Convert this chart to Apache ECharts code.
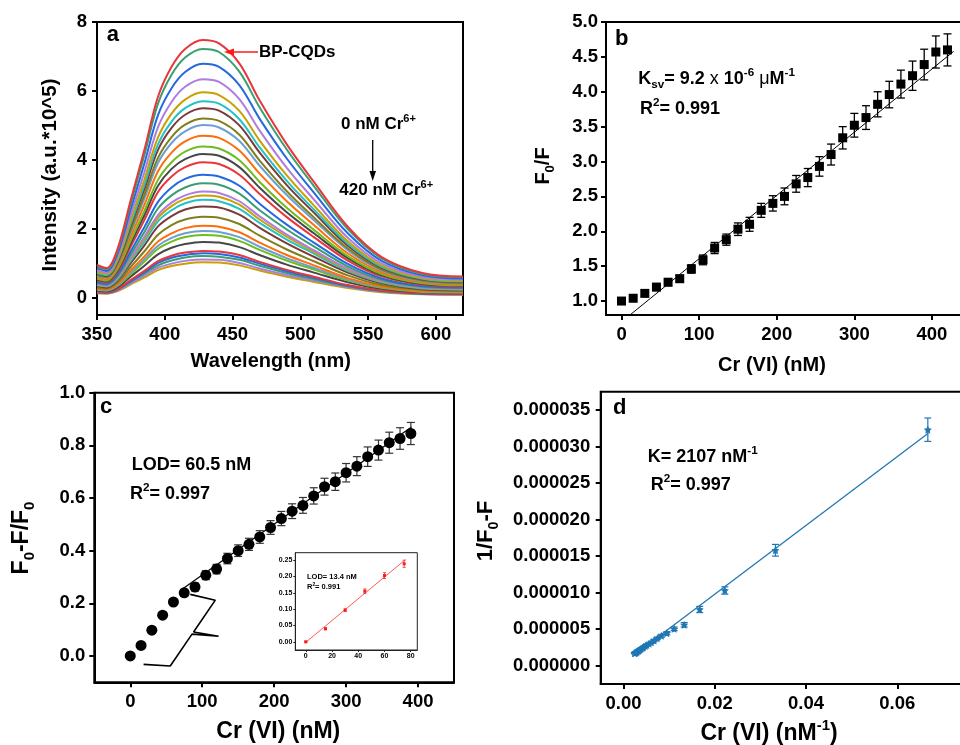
<!DOCTYPE html>
<html><head><meta charset="utf-8">
<script src="https://cdn.jsdelivr.net/npm/echarts@6/dist/echarts.min.js"></script>
<style>html,body{margin:0;padding:0;background:#fff}#chart{width:960px;height:745px}</style>
</head><body><div id="chart"></div>
<script>
// ---------------- Panel a: emission spectra ----------------
const wavelengthA = [350,357,365,375,385,395,405,415,428,440,455,470,490,510,535,560,590,620];
const concA = [0,15,30,45,60,75,90,105,120,135,150,165,180,195,210,225,240,255,270,285,300,315,330,345,360,375,390,405,420];
const spectraA = [
 [0.95,0.86,1.40,2.85,4.30,5.83,6.70,7.22,7.48,7.38,6.80,5.72,4.45,3.36,2.06,1.18,0.72,0.62],
 [0.92,0.83,1.35,2.75,4.15,5.63,6.47,6.97,7.22,7.13,6.56,5.52,4.30,3.24,1.99,1.14,0.69,0.60],
 [0.86,0.78,1.27,2.59,3.90,5.30,6.08,6.55,6.79,6.70,6.17,5.19,4.04,3.05,1.87,1.07,0.65,0.56],
 [0.81,0.73,1.19,2.42,3.65,4.95,5.68,6.12,6.34,6.26,5.76,4.85,3.77,2.85,1.74,1.00,0.61,0.53],
 [0.76,0.69,1.11,2.27,3.43,4.65,5.34,5.75,5.96,5.88,5.42,4.56,3.55,2.68,1.64,0.94,0.57,0.49],
 [0.72,0.66,1.07,2.17,3.28,4.45,5.11,5.50,5.70,5.63,5.18,4.36,3.39,2.56,1.57,0.90,0.55,0.47],
 [0.70,0.63,1.03,2.10,3.16,4.29,4.93,5.31,5.50,5.43,5.00,4.21,3.27,2.47,1.51,0.87,0.53,0.46],
 [0.66,0.60,0.97,1.98,2.99,4.06,4.66,5.02,5.20,5.13,4.73,3.98,3.09,2.33,1.43,0.82,0.50,0.43],
 [0.64,0.58,0.94,1.91,2.88,3.91,4.49,4.83,5.01,4.94,4.55,3.83,2.98,2.25,1.38,0.79,0.48,0.42],
 [0.60,0.54,0.88,1.79,2.70,3.67,4.21,4.54,4.70,4.64,4.27,3.60,2.80,2.11,1.29,0.74,0.45,0.39],
 [0.56,0.50,0.82,1.67,2.52,3.42,3.93,4.24,4.39,4.33,3.99,3.36,2.61,1.97,1.21,0.69,0.42,0.36],
 [0.53,0.48,0.78,1.59,2.40,3.25,3.74,4.02,4.17,4.12,3.79,3.19,2.48,1.87,1.15,0.66,0.40,0.35],
 [0.50,0.45,0.73,1.50,2.26,3.07,3.52,3.79,3.93,3.88,3.57,3.01,2.34,1.76,1.08,0.62,0.38,0.33],
 [0.45,0.41,0.67,1.36,2.05,2.78,3.20,3.45,3.57,3.52,3.25,2.73,2.12,1.60,0.98,0.56,0.34,0.30],
 [0.42,0.38,0.62,1.26,1.91,2.59,2.97,3.20,3.32,3.28,3.02,2.54,1.98,1.49,0.91,0.52,0.32,0.28],
 [0.39,0.35,0.58,1.17,1.77,2.40,2.76,2.97,3.08,3.04,2.80,2.36,1.83,1.38,0.85,0.49,0.30,0.26],
 [0.38,0.34,0.56,1.13,1.71,2.32,2.66,2.87,2.97,2.93,2.70,2.27,1.77,1.33,0.82,0.47,0.29,0.25],
 [0.36,0.33,0.53,1.08,1.63,2.22,2.54,2.74,2.84,2.80,2.58,2.17,1.69,1.28,0.78,0.45,0.27,0.24],
 [0.34,0.30,0.50,1.01,1.52,2.07,2.37,2.56,2.65,2.62,2.41,2.03,1.58,1.19,0.73,0.42,0.25,0.22],
 [0.30,0.27,0.44,0.90,1.35,1.83,2.11,2.27,2.35,2.32,2.14,1.80,1.40,1.06,0.65,0.37,0.23,0.20],
 [0.27,0.24,0.39,0.80,1.20,1.63,1.87,2.02,2.09,2.06,1.90,1.60,1.24,0.94,0.57,0.33,0.20,0.17],
 [0.25,0.22,0.36,0.74,1.12,1.51,1.74,1.87,1.94,1.91,1.76,1.48,1.15,0.87,0.53,0.31,0.19,0.16],
 [0.23,0.21,0.34,0.69,1.05,1.42,1.63,1.76,1.82,1.80,1.65,1.39,1.08,0.82,0.50,0.29,0.17,0.15],
 [0.21,0.19,0.30,0.62,0.93,1.26,1.45,1.56,1.62,1.60,1.47,1.24,0.96,0.73,0.45,0.26,0.16,0.13],
 [0.17,0.16,0.25,0.52,0.78,1.06,1.22,1.31,1.36,1.34,1.24,1.04,0.81,0.61,0.37,0.21,0.13,0.11],
 [0.16,0.15,0.24,0.49,0.74,1.01,1.16,1.24,1.29,1.27,1.17,0.99,0.77,0.58,0.35,0.20,0.12,0.11],
 [0.15,0.14,0.23,0.46,0.70,0.94,1.08,1.17,1.21,1.19,1.10,0.93,0.72,0.54,0.33,0.19,0.12,0.10],
 [0.14,0.13,0.21,0.42,0.64,0.87,0.99,1.07,1.11,1.10,1.01,0.85,0.66,0.50,0.31,0.18,0.11,0.09],
 [0.13,0.12,0.19,0.39,0.59,0.80,0.92,0.99,1.03,1.02,0.94,0.79,0.61,0.46,0.28,0.16,0.10,0.09]
];
const colorsA = ['#e8363c','#3a9e70','#2469e0','#b07ce0','#c7a100','#22c2c8','#7a3a3a','#7f801c','#6d9fd3','#ff6d0a','#6dbd1e','#474747',
                 '#e8363c','#2469e0','#3a9e70','#b07ce0','#c7a100','#22c2c8','#7a3a3a','#7f801c','#ff6d0a','#6d9fd3','#6dbd1e','#474747',
                 '#e8363c','#2469e0','#3a9e70','#b07ce0','#c7a100'];
const ticksAx = [350,400,450,500,550,600];
const ticksAy = [0,2,4,6,8];

// ---------------- Panel b: Stern-Volmer ----------------
const crB = [0,15,30,45,60,75,90,105,120,135,150,165,180,195,210,225,240,255,270,285,300,315,330,345,360,375,390,405,420];
const f0fB = [1.00,1.04,1.11,1.20,1.27,1.32,1.46,1.59,1.76,1.88,2.03,2.10,2.30,2.40,2.50,2.68,2.77,2.93,3.10,3.34,3.52,3.63,3.82,3.96,4.11,4.23,4.39,4.57,4.60];
const errB = [0.03,0.03,0.04,0.05,0.05,0.05,0.06,0.07,0.08,0.08,0.09,0.10,0.10,0.11,0.12,0.12,0.13,0.14,0.15,0.16,0.17,0.17,0.18,0.19,0.20,0.21,0.22,0.23,0.23];
const fitBx = [12, 428];
const fitBy = [0.81, 4.58];
const ticksBx = [0,100,200,300,400];
const ticksBy = [1.0,1.5,2.0,2.5,3.0,3.5,4.0,4.5,5.0];

// ---------------- Panel c: quenching efficiency ----------------
const crC = [0,15,30,45,60,75,90,105,120,135,150,165,180,195,210,225,240,255,270,285,300,315,330,345,360,375,390];
const quenchC = [0.000,0.040,0.098,0.155,0.205,0.240,0.262,0.307,0.330,0.370,0.400,0.424,0.452,0.488,0.522,0.550,0.572,0.608,0.643,0.662,0.696,0.721,0.757,0.782,0.810,0.826,0.845];
const errC = [0,0,0,0,0,0.013,0.015,0.017,0.018,0.020,0.022,0.023,0.024,0.026,0.027,0.028,0.030,0.031,0.032,0.033,0.035,0.036,0.037,0.038,0.040,0.041,0.042];
const fitCx = [70, 391];
const fitCy = [0.25, 0.87];
const braceCx = [18.5, 55.6, 85.8, 122.8, 88.0, 118.2, 83.4];
const braceCy = [-0.032, -0.038, 0.083, 0.075, 0.091, 0.212, 0.234];
const ticksCx = [0,100,200,300,400];
const ticksCy = [0.0,0.2,0.4,0.6,0.8,1.0];
// inset
const crIn = [0,15,30,45,60,75];
const quenchIn = [0.000,0.040,0.097,0.155,0.203,0.239];
const errIn = [0.002,0.003,0.004,0.007,0.009,0.011];
const fitInx = [-0.5, 76];
const fitIny = [-0.003, 0.252];
const ticksInx = [0,20,40,60,80];
const ticksIny = [0.00,0.05,0.10,0.15,0.20,0.25];

// ---------------- Panel d: Benesi-Hildebrand ----------------
const invCrD = [0.0667,0.0333,0.0222,0.0167,0.0133,0.0111,0.0095,0.0083,0.0074,0.0067,0.0061,0.0056,0.0051,0.0048,0.0044,0.0042,0.0039,0.0037,0.0035,0.0033,0.0032,0.0030,0.0029,0.0028,0.0027,0.0026,0.0025,0.0024];
const invFD = [32.3e-6,15.8e-6,10.3e-6,7.7e-6,5.6e-6,5.05e-6,4.45e-6,4.1e-6,3.75e-6,3.45e-6,3.2e-6,3.0e-6,2.85e-6,2.7e-6,2.55e-6,2.45e-6,2.35e-6,2.25e-6,2.15e-6,2.08e-6,2.02e-6,1.96e-6,1.9e-6,1.85e-6,1.82e-6,1.78e-6,1.75e-6,1.72e-6];
const errD = [1.6e-6,0.8e-6,0.5e-6,0.42e-6,0.3e-6,0.25e-6,0.22e-6,0.2e-6,0.18e-6,0.17e-6,0.15e-6,0.14e-6,0.13e-6,0.12e-6,0.12e-6,0.11e-6,0.1e-6,0.1e-6,0.1e-6,0.1e-6,0.1e-6,0.09e-6,0.09e-6,0.09e-6,0.08e-6,0.08e-6,0.08e-6,0.08e-6];
const fitDx = [0.0024, 0.0668];
const fitDy = [1.5e-6, 31.8e-6];
const ticksDx = [0,0.02,0.04,0.06];
const ticksDy = [0,5e-6,10e-6,15e-6,20e-6,25e-6,30e-6,35e-6];

// ---------------- helpers ----------------
const FONT = '"Liberation Sans", Arial, Helvetica, sans-serif';
const zip = (xs, ys) => xs.map((x, i) => [x, ys[i]]);
const zip3 = (xs, ys, es) => xs.map((x, i) => [x, ys[i], es[i]]);

function mkAxis(gi, min, max, ticks, fmt, s) {
  s = s || {};
  const lw = s.lw || 2;
  return {
    type: 'value', gridIndex: gi, min: min, max: max,
    splitLine: {show: false}, minorTick: {show: false},
    axisLine: {show: true, onZero: false, lineStyle: {color: s.lc || '#000', width: lw}},
    axisTick: {show: true, inside: false, length: s.tl || 5, customValues: ticks, lineStyle: {color: s.lc || '#000', width: lw}},
    axisLabel: {show: true, customValues: ticks, formatter: fmt, color: '#000', fontFamily: FONT,
      fontWeight: 'bold', fontSize: s.fs || 18.5, margin: s.m || 10, hideOverlap: false},
    axisPointer: {show: false}
  };
}
function gridBox(left, top, width, height, s) {
  s = s || {};
  return {left: left, top: top, width: width, height: height, show: true, containLabel: false,
    outerBoundsMode: 'none', borderColor: s.bc || '#000', borderWidth: s.bw || 2,
    backgroundColor: s.bg || 'transparent'};
}
function errRender(cap, color, width) {
  return function (params, api) {
    const x = api.value(0), y = api.value(1), e = api.value(2);
    if (!e) return {type: 'group', children: []};
    const lo = api.coord([x, y - e]), hi = api.coord([x, y + e]);
    const st = {stroke: color, lineWidth: width};
    return {type: 'group', children: [
      {type: 'line', shape: {x1: lo[0], y1: lo[1], x2: hi[0], y2: hi[1]}, style: st},
      {type: 'line', shape: {x1: lo[0] - cap, y1: lo[1], x2: lo[0] + cap, y2: lo[1]}, style: st},
      {type: 'line', shape: {x1: hi[0] - cap, y1: hi[1], x2: hi[0] + cap, y2: hi[1]}, style: st}
    ]};
  };
}
function rich(fs) {
  const base = {fontFamily: FONT, fontWeight: 'bold', color: '#000'};
  return {
    m: Object.assign({}, base, {fontSize: fs, lineHeight: Math.round(fs * 1.35)}),
    s: Object.assign({}, base, {fontSize: fs * 0.65, lineHeight: Math.round(fs * 0.8), verticalAlign: 'bottom'}),
    p: Object.assign({}, base, {fontSize: fs * 0.65, lineHeight: Math.round(fs * 0.8), verticalAlign: 'top'}),
    t: Object.assign({}, base, {fontWeight: 'normal', fontSize: fs, lineHeight: Math.round(fs * 1.35)})
  };
}
function txt(x, y, text, fs, o) {
  o = o || {};
  return {type: 'text', x: x, y: y, rotation: o.rot || 0, z: 100,
    style: {text: text, rich: rich(fs), align: o.align || 'left', verticalAlign: 'middle', fill: o.fill || '#000'}};
}
const STAR = 'path://M0,-10 L2.9,-4 9.5,-3.1 4.8,1.5 5.9,8.1 0,5 -5.9,8.1 -4.8,1.5 -9.5,-3.1 -2.9,-4 Z';
const BLUE = '#1f77b4';

// ---------------- series ----------------
const series = [];
for (let i = spectraA.length - 1; i >= 0; i--) {
  series.push({type: 'line', name: concA[i] + ' nM', xAxisIndex: 0, yAxisIndex: 0, smooth: 0.35,
    showSymbol: false, symbol: 'none', data: zip(wavelengthA, spectraA[i]),
    lineStyle: {color: colorsA[i], width: 2, opacity: 1}, itemStyle: {color: colorsA[i]}, silent: true, clip: true});
}
// b
series.push({type: 'line', xAxisIndex: 1, yAxisIndex: 1, data: zip(fitBx, fitBy), showSymbol: false, symbol: 'none',
  lineStyle: {color: '#000', width: 1}, silent: true, clip: true, z: 2});
series.push({type: 'custom', xAxisIndex: 1, yAxisIndex: 1, renderItem: errRender(4, '#000', 1.3),
  data: zip3(crB, f0fB, errB), encode: {x: 0, y: 1}, silent: true, clip: true, z: 3});
series.push({type: 'scatter', xAxisIndex: 1, yAxisIndex: 1, symbol: 'rect', symbolSize: 9,
  data: zip(crB, f0fB), itemStyle: {color: '#000', opacity: 1}, silent: true, z: 4});
// c
series.push({type: 'line', xAxisIndex: 2, yAxisIndex: 2, data: zip(fitCx, fitCy), showSymbol: false, symbol: 'none',
  lineStyle: {color: '#000', width: 1.2}, silent: true, z: 2});
series.push({type: 'custom', xAxisIndex: 2, yAxisIndex: 2, renderItem: errRender(4, '#333', 1.2),
  data: zip3(crC, quenchC, errC), encode: {x: 0, y: 1}, silent: true, z: 3});
series.push({type: 'scatter', xAxisIndex: 2, yAxisIndex: 2, symbol: 'circle', symbolSize: 11,
  data: zip(crC, quenchC), itemStyle: {color: '#000', opacity: 1}, silent: true, z: 4});
series.push({type: 'line', xAxisIndex: 2, yAxisIndex: 2, data: zip(braceCx, braceCy), showSymbol: false, symbol: 'none',
  lineStyle: {color: '#000', width: 1.6}, silent: true, z: 2});
// inset
series.push({type: 'line', xAxisIndex: 3, yAxisIndex: 3, data: zip(fitInx, fitIny), showSymbol: false, symbol: 'none',
  lineStyle: {color: '#ff5a5a', width: 1}, silent: true, z: 12});
series.push({type: 'custom', xAxisIndex: 3, yAxisIndex: 3, renderItem: errRender(1.5, '#ff2a2a', 0.8),
  data: zip3(crIn, quenchIn, errIn), encode: {x: 0, y: 1}, silent: true, z: 13});
series.push({type: 'scatter', xAxisIndex: 3, yAxisIndex: 3, symbol: 'rect', symbolSize: 3,
  data: zip(crIn, quenchIn), itemStyle: {color: '#ff1a1a', opacity: 1}, silent: true, z: 14});
// d
series.push({type: 'line', xAxisIndex: 4, yAxisIndex: 4, data: zip(fitDx, fitDy), showSymbol: false, symbol: 'none',
  lineStyle: {color: BLUE, width: 1.3}, silent: true, z: 2});
series.push({type: 'custom', xAxisIndex: 4, yAxisIndex: 4, renderItem: errRender(3.5, BLUE, 1.2),
  data: zip3(invCrD, invFD, errD), encode: {x: 0, y: 1}, silent: true, z: 3});
series.push({type: 'scatter', xAxisIndex: 4, yAxisIndex: 4, symbol: STAR, symbolSize: 8,
  data: zip(invCrD, invFD), itemStyle: {color: BLUE, opacity: 1}, silent: true, z: 4});

const f0 = v => String(Math.round(v));
const f1 = v => v.toFixed(1);
const f2 = v => v.toFixed(2);
const f6 = v => v.toFixed(6);

const option = {
  animation: false,
  backgroundColor: '#fff',
  grid: [
    gridBox(97, 22, 366, 293),
    gridBox(606, 22, 357, 293),
    gridBox(94.3, 392.7, 359.7, 289.6),
    gridBox(295.3, 552.7, 122, 97.3, {bw: 1, bc: '#222', bg: '#fff'}),
    gridBox(600.7, 391.7, 365, 292.3)
  ],
  xAxis: [
    mkAxis(0, 350, 620, ticksAx, f0),
    mkAxis(1, -20, 440, ticksBx, f0),
    mkAxis(2, -50, 450, ticksCx, f0),
    mkAxis(3, -8, 85, ticksInx, f0, {lw: 1, tl: 2, fs: 7, m: 3, lc: '#222'}),
    mkAxis(4, -0.005, 0.075, ticksDx, f2)
  ],
  yAxis: [
    mkAxis(0, -0.5, 8, ticksAy, f0),
    mkAxis(1, 0.8, 5.0, ticksBy, f1, {m: 8}),
    mkAxis(2, -0.1, 1.0, ticksCy, f1, {m: 9}),
    mkAxis(3, -0.025, 0.273, ticksIny, f2, {lw: 1, tl: 2, fs: 7, m: 3, lc: '#222'}),
    mkAxis(4, -2.5e-6, 37.5e-6, ticksDy, f6, {m: 10.5})
  ],
  series: series,
  graphic: [
    // panel letters
    txt(106.7, 35, '{m|a}', 22),
    txt(615, 39, '{m|b}', 22),
    txt(100, 407.4, '{m|c}', 22),
    txt(613, 408, '{m|d}', 22),
    // axis titles
    txt(270.8, 361.5, '{m|Wavelength (nm)}', 20, {align: 'center'}),
    txt(50.4, 175, '{m|Intensity (a.u.*10^5)}', 20.5, {align: 'center', rot: Math.PI / 2}),
    txt(772, 365.7, '{m|Cr (VI) (nM)}', 20, {align: 'center'}),
    txt(543, 166, '{m|F}{s|0}{m|/F}', 20, {align: 'center', rot: Math.PI / 2}),
    txt(278.3, 731.8, '{m|Cr (VI) (nM)}', 23, {align: 'center'}),
    txt(21.8, 538, '{m|F}{s|0}{m|-F/F}{s|0}', 23, {align: 'center', rot: Math.PI / 2}),
    txt(769, 733.5, '{m|Cr (VI) (nM}{p|-1}{m|)}', 23, {align: 'center'}),
    txt(486.4, 531, '{m|1/F}{s|0}{m|-F}', 22, {align: 'center', rot: Math.PI / 2}),
    // panel a annotations
    txt(259, 52, '{m|BP-CQDs}', 17),
    txt(341, 124.8, '{m|0 nM Cr}{p|6+}', 17),
    txt(339.3, 190.8, '{m|420 nM Cr}{p|6+}', 17),
    {type: 'line', z: 100, shape: {x1: 258, y1: 52, x2: 232, y2: 52}, style: {stroke: '#ff1a1a', lineWidth: 1.5}},
    {type: 'polygon', z: 100, shape: {points: [[224, 52], [234, 48.5], [234, 55.5]]}, style: {fill: '#ff1a1a'}},
    {type: 'line', z: 100, shape: {x1: 372.7, y1: 140, x2: 372.7, y2: 172}, style: {stroke: '#000', lineWidth: 1.3}},
    {type: 'polygon', z: 100, shape: {points: [[372.7, 181], [369.5, 171], [376, 171]]}, style: {fill: '#000'}},
    // panel b annotations
    txt(638.3, 78.8, '{m|K}{s|sv}{m|= 9.2 }{t|x}{m| 10}{p|-6}{m| }{t|μ}{m|M}{p|-1}', 18),
    txt(640, 108.8, '{m|R}{p|2}{m|= 0.991}', 18),
    // panel c annotations
    txt(131.7, 464.8, '{m|LOD= 60.5 nM}', 18),
    txt(130, 493.8, '{m|R}{p|2}{m|= 0.997}', 18),
    txt(307, 577.4, '{m|LOD= 13.4 nM}', 7.5),
    txt(307, 586.7, '{m|R}{p|2}{m|= 0.991}', 7.5),
    // panel d annotations
    txt(647.7, 457, '{m|K= 2107 nM}{p|-1}', 18),
    txt(650.7, 484.8, '{m|R}{p|2}{m|= 0.997}', 18)
  ]
};
const chart = echarts.init(document.getElementById('chart'), null, {renderer: 'canvas', width: 960, height: 745});
chart.setOption(option);
</script></body></html>
